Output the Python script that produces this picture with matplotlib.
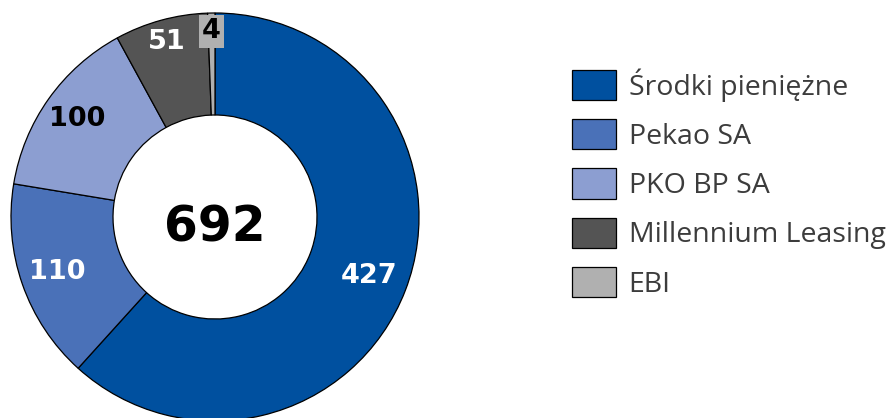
import numpy as np
import matplotlib.pyplot as plt

# data
labels = ["Środki pieniężne", "Pekao SA", "PKO BP SA", "Millennium Leasing", "EBI"]
values = [427, 110, 100, 51, 4]
colors = ["#00509F", "#4A71B8", "#8C9ED1", "#545454", "#B0B0B0"]
label_colors = ["white", "white", "black", "white", "black"]
total = sum(values)

W, H = 892, 418
fig = plt.figure(figsize=(W / 100, H / 100), dpi=100)
ax = fig.add_axes([0, 0, 1, 1])

# pixel-like coordinates so the ring sits where it does in the reference
cx, cy, r = 215, H - 217, 204
wedges, _ = ax.pie(values, colors=colors, startangle=90, counterclock=False,
                   center=(cx, cy), radius=r,
                   wedgeprops=dict(width=r * 0.5, edgecolor="black", linewidth=0.9))
ax.set_xlim(0, W)
ax.set_ylim(0, H)
ax.set_aspect("equal")
ax.axis("off")

# value labels inside the ring
label_r = [0.81, 0.82, 0.83, 0.89, 0.91]
start = 90.0
for i, v in enumerate(values):
    mid = start - v / total * 180
    start -= v / total * 360
    a = np.deg2rad(mid)
    x = cx + label_r[i] * r * np.cos(a)
    y = cy + label_r[i] * r * np.sin(a)
    kw = {}
    if labels[i] == "EBI":
        kw["bbox"] = dict(boxstyle="square,pad=0.12", facecolor=colors[i], edgecolor="none")
    ax.text(x, y, str(v), ha="center", va="center", fontsize=19.5, fontweight="bold",
            family="DejaVu Sans", color=label_colors[i], **kw)

ax.text(cx, cy - 11, str(total), ha="center", va="center", fontsize=35,
        fontweight="bold", family="DejaVu Sans", color="black")

leg = ax.legend(wedges, labels, loc="upper left", bbox_to_anchor=(572 / W, 1 - 68 / H),
                frameon=False, prop=dict(family="Open Sans", size=20.5),
                handlelength=1.54, handleheight=1.25, handletextpad=0.45,
                labelspacing=0.62, borderpad=0, borderaxespad=0)
for t in leg.get_texts():
    t.set_color("#3C3C3C")

fig.savefig("out.png", dpi=100)
